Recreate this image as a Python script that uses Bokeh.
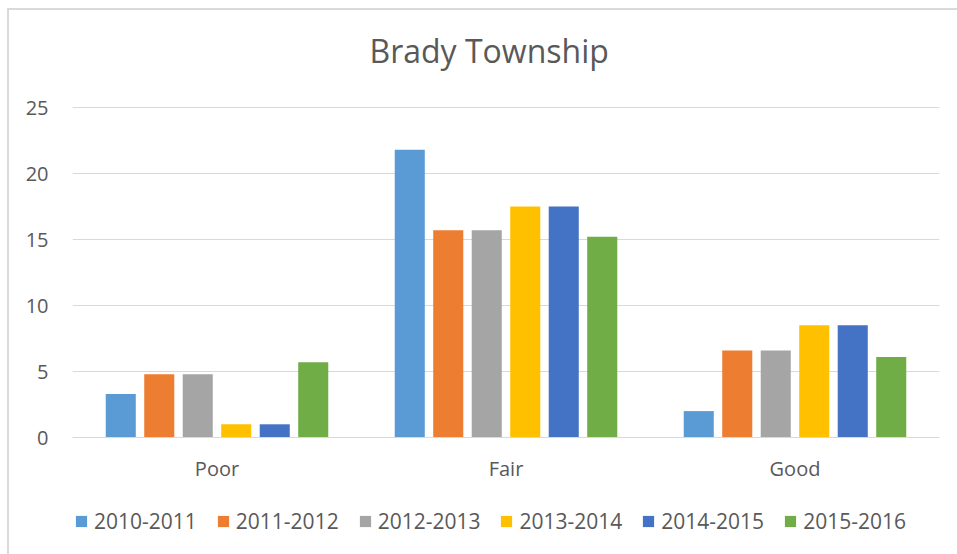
from bokeh.plotting import figure
from bokeh.models import ColumnDataSource, FactorRange, Range1d, Legend, LegendItem, FixedTicker
from bokeh.transform import dodge
from bokeh.embed import file_html
from bokeh.resources import INLINE

categories = ["Poor", "Fair", "Good"]
series = ["2010-2011", "2011-2012", "2012-2013", "2013-2014", "2014-2015", "2015-2016"]
v_2010_2011 = [3.3, 21.8, 2.0]
v_2011_2012 = [4.8, 15.7, 6.6]
v_2012_2013 = [4.8, 15.7, 6.6]
v_2013_2014 = [1.0, 17.5, 8.5]
v_2014_2015 = [1.0, 17.5, 8.5]
v_2015_2016 = [5.7, 15.2, 6.1]
y_ticks = [0, 5, 10, 15, 20, 25]
colors = ["#5B9BD5", "#ED7D31", "#A5A5A5", "#FFC000", "#4472C4", "#70AD47"]

values = [v_2010_2011, v_2011_2012, v_2012_2013, v_2013_2014, v_2014_2015, v_2015_2016]
data = {"cat": categories}
for s, v in zip(series, values):
    data[s] = v
source = ColumnDataSource(data)

FONT = "Open Sans"
TXT = "#595959"

# frame spans 90..546 px; value axis 0..25 occupies 107..437 px
px_per_unit = 330 / 25
y_min = -(546 - 437) / px_per_unit
y_max = 25 + (107 - 90) / px_per_unit

p = figure(x_range=FactorRange(*categories, range_padding=0), y_range=Range1d(y_min, y_max),
           width=957, height=554, output_backend="svg", toolbar_location=None,
           min_border_left=72, min_border_right=18, min_border_top=90, min_border_bottom=8)
p.border_fill_color = None
p.background_fill_color = "white"
p.styles = {
    "background-color": "white",
    "background-image": "linear-gradient(#D9D9D9, #D9D9D9), linear-gradient(#D9D9D9, #D9D9D9)",
    "background-size": "950px 2px, 2px 546px",
    "background-position": "7px 8px, 7px 8px",
    "background-repeat": "no-repeat",
}
p.outline_line_color = None

step = 0.1332
bw = 0.104
items = []
for i, (s, c) in enumerate(zip(series, colors)):
    r = p.vbar(x=dodge("cat", (i - 2.5) * step, range=p.x_range), top=s, bottom=0, width=bw,
               source=source, fill_color=c, line_color=None)
    items.append(LegendItem(label=s, renderers=[r]))

p.title.text = "Brady Township"
p.title.align = "left"
p.title.offset = 297
p.title.text_font = FONT
p.title.text_font_size = "32px"
p.title.text_font_style = "normal"
p.title.text_color = TXT
p.title.standoff = 38

p.yaxis.ticker = FixedTicker(ticks=y_ticks)
p.yaxis.axis_line_color = None
p.yaxis.major_tick_line_color = None
p.yaxis.minor_tick_line_color = None
p.yaxis.major_label_text_font = FONT
p.yaxis.major_label_text_font_size = "20px"
p.yaxis.major_label_text_color = TXT
p.yaxis.major_label_standoff = 18

p.xaxis.fixed_location = 0
p.xaxis.axis_line_color = "#D9D9D9"
p.xaxis.axis_line_width = 1
p.xaxis.major_tick_line_color = None
p.xaxis.minor_tick_line_color = None
p.xaxis.major_label_text_font = FONT
p.xaxis.major_label_text_font_size = "20px"
p.xaxis.major_label_text_color = TXT
p.xaxis.major_label_standoff = 11

p.xgrid.grid_line_color = None
p.ygrid.grid_line_color = "#D9D9D9"
p.ygrid.grid_line_width = 1

legend = Legend(items=items, orientation="horizontal", location=(2, 11),
                label_text_font=FONT, label_text_font_size="21px", label_text_color=TXT,
                glyph_width=14, glyph_height=14, label_standoff=6, spacing=19,
                border_line_color=None, background_fill_alpha=0, padding=0, margin=0)
p.add_layout(legend, "center")

open("out.html", "w").write(file_html(p, INLINE))
